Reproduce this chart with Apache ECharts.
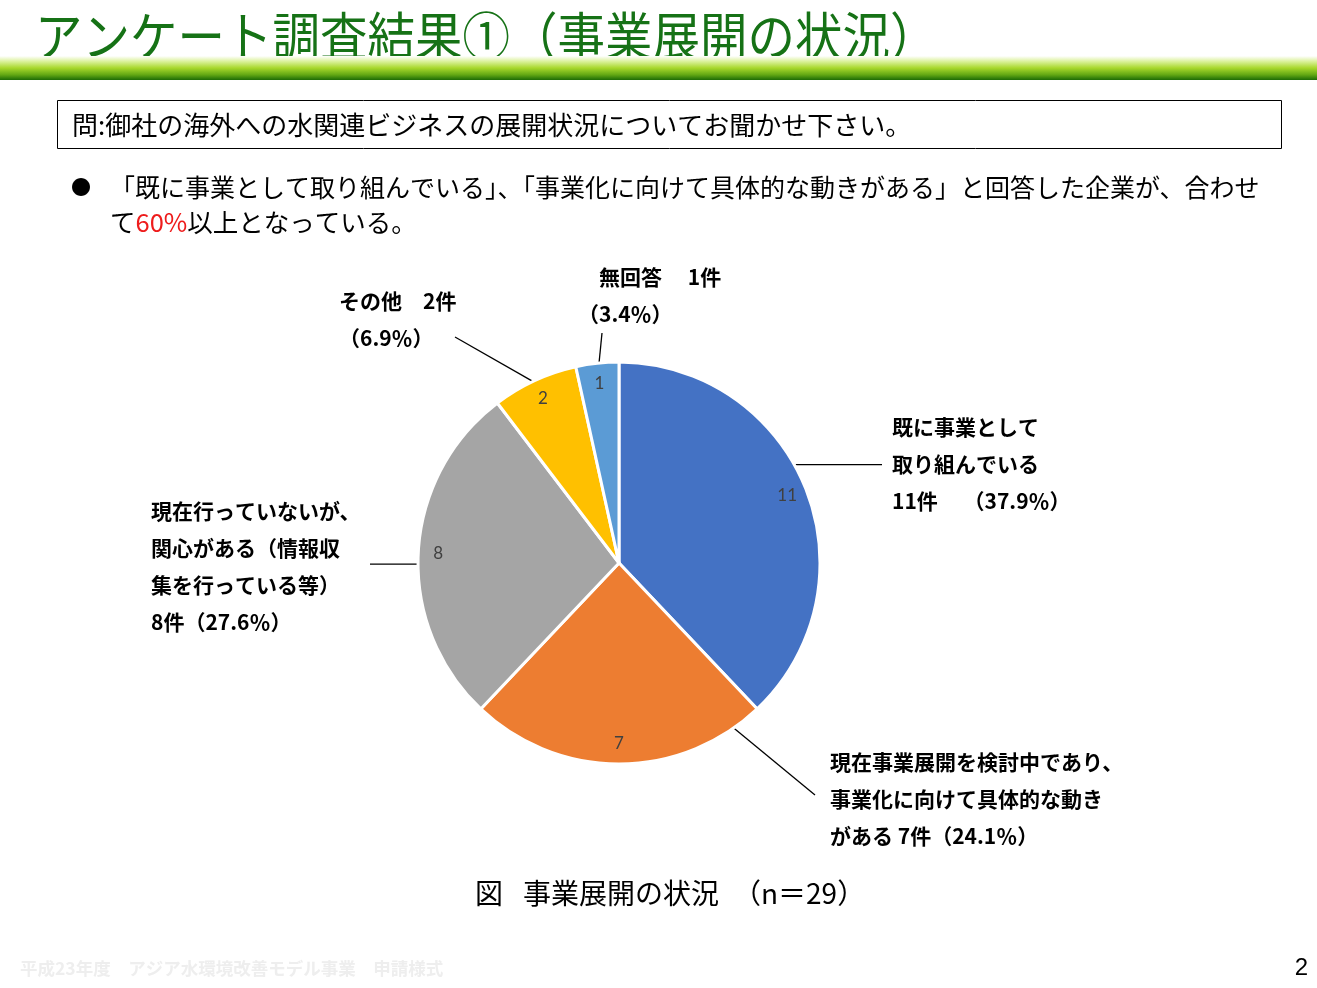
<!DOCTYPE html>
<html><head><meta charset="utf-8">
<script src="https://cdn.jsdelivr.net/npm/echarts@6/dist/echarts.min.js"></script>
<style>html,body{margin:0;padding:0;background:#fff}#c{width:1317px;height:988px}</style>
</head><body><div id="c"></div>
<script>
// ---- data ----
const categories = [
  '既に事業として取り組んでいる',
  '現在事業展開を検討中であり、事業化に向けて具体的な動きがある',
  '現在行っていないが、関心がある（情報収集を行っている等）',
  'その他',
  '無回答'
];
const counts = [11, 7, 8, 2, 1];
const percents = ['37.9', '24.1', '27.6', '6.9', '3.4'];
const labelTemplates = [
  '既に事業として\n取り組んでいる\n{n}件　 （{p}％）',
  '現在事業展開を検討中であり、\n事業化に向けて具体的な動き\nがある {n}件（{p}％）',
  '現在行っていないが、\n関心がある（情報収\n集を行っている等）\n{n}件（{p}％）',
  'その他　{n}件\n（{p}％）',
  '　無回答　 {n}件\n（{p}％）'
];
const titleText = 'アンケート調査結果①（事業展開の状況）';
const questionText = '問:御社の海外への水関連ビジネスの展開状況についてお聞かせ下さい。';
const bulletLine1 = '「既に事業として取り組んでいる」、「事業化に向けて具体的な動きがある」と回答した企業が、合わせ';
const bulletLine2 = ['て', '60%', '以上となっている。'];
const captionHead = '図';
const captionBody = '事業展開の状況　（n＝29）';
const footerText = '平成23年度　アジア水環境改善モデル事業　申請様式';
const pageNumber = '2';

// ---- style / layout ----
const colors = ['#4472C4', '#ED7D31', '#A5A5A5', '#FFC000', '#5B9BD5'];
const JP = "'Noto Sans CJK JP', 'Noto Sans', sans-serif";
const CX = 619, CY = 563, R = 201;
const labelPlace = [
  { x: 892, y: 409, angle: 60.7, end: [882, null] },
  { x: 830, y: 744, angle: 145.2, end: [815, 795] },
  { x: 151, y: 493, angle: 269.7, end: [370, null] },
  { x: 339, y: 283, angle: 334.6, end: [455, 337] },
  { x: 578, y: 259, angle: 354.3, end: [602, 333] }
];

const pieData = categories.map((c, i) => ({ name: c, value: counts[i], itemStyle: { color: colors[i] } }));

const chart = echarts.init(document.getElementById('c'));
chart.setOption({
  animation: false,
  backgroundColor: '#fff',
  graphic: [
    { type: 'text', x: 35, y: 36, scaleY: 1.1, style: { text: titleText, fill: '#167216', fontSize: 47.5, fontFamily: JP, align: 'left', verticalAlign: 'middle' } },
    { type: 'rect', shape: { x: 0, y: 56, width: 1317, height: 24 }, style: { fill: { type: 'linear', x: 0, y: 0, x2: 0, y2: 1, colorStops: [
      { offset: 0, color: '#ffffff' }, { offset: 0.22, color: '#dcf29e' }, { offset: 0.5, color: '#a8d82c' }, { offset: 0.78, color: '#63a814' }, { offset: 1, color: '#1d6b06' } ] } } },
    { type: 'rect', shape: { x: 57.5, y: 100.5, width: 1224, height: 48 }, style: { fill: 'none', stroke: '#000', lineWidth: 1 } },
    { type: 'text', x: 72, y: 125, style: { text: questionText, fill: '#000', fontSize: 26, fontFamily: JP, align: 'left', verticalAlign: 'middle' } },
    { type: 'text', x: 81, y: 187, style: { text: '●', fill: '#000', fontSize: 20, fontFamily: JP, align: 'center', verticalAlign: 'middle' } },
    { type: 'text', x: 110, y: 187, style: { text: bulletLine1, fill: '#000', fontSize: 25, fontFamily: JP, align: 'left', verticalAlign: 'middle' } },
    { type: 'text', x: 110, y: 222, style: { text: bulletLine2[0] + '{r|' + bulletLine2[1] + '}' + bulletLine2[2], fill: '#000', fontSize: 25.5, fontFamily: JP, align: 'left', verticalAlign: 'middle',
      rich: { r: { fill: '#ee1c1c', fontSize: 25.5, fontFamily: JP } } } },
    { type: 'text', x: 475, y: 893, style: { text: captionHead, fill: '#000', fontSize: 28, fontFamily: JP, align: 'left', verticalAlign: 'middle' } },
    { type: 'text', x: 523, y: 893, style: { text: captionBody, fill: '#000', fontSize: 28, fontFamily: JP, align: 'left', verticalAlign: 'middle' } },
    { type: 'text', x: 20, y: 968, style: { text: footerText, fill: '#eeeeee', fontSize: 17.5, fontWeight: 'bold', fontFamily: JP, align: 'left', verticalAlign: 'middle' } },
    { type: 'text', x: 1308, y: 968, style: { text: pageNumber, fill: '#000', fontSize: 24, fontFamily: "'Liberation Sans', sans-serif", align: 'right', verticalAlign: 'middle' } }
  ],
  series: [
    {
      type: 'pie',
      center: [CX, CY],
      radius: [0, R],
      startAngle: 90,
      clockwise: true,
      avoidLabelOverlap: false,
      silent: true,
      data: pieData,
      itemStyle: { borderColor: '#fff', borderWidth: 3 },
      label: {
        show: true,
        position: 'outside',
        color: '#000',
        fontSize: 21,
        fontWeight: 'bold',
        fontFamily: JP,
        lineHeight: 37,
        formatter: p => labelTemplates[p.dataIndex].replace('{n}', counts[p.dataIndex]).replace('{p}', percents[p.dataIndex])
      },
      labelLine: { show: true, length: 10, length2: 10, lineStyle: { color: '#000', width: 1.3 } },
      labelLayout: function (params) {
        const c = labelPlace[params.dataIndex];
        const a = c.angle * Math.PI / 180;
        const sx = CX + R * Math.sin(a), sy = CY - R * Math.cos(a);
        const ex = c.end[0], ey = c.end[1] == null ? sy : c.end[1];
        return { x: c.x, y: c.y, align: 'left', verticalAlign: 'top', labelLinePoints: [[sx, sy], [ex, ey], [ex, ey]] };
      }
    },
    {
      type: 'pie',
      center: [CX, CY],
      radius: [155, R],
      startAngle: 90,
      clockwise: true,
      silent: true,
      data: categories.map((c, i) => ({ name: c, value: counts[i] })),
      itemStyle: { color: 'rgba(0,0,0,0)', borderWidth: 0 },
      label: { show: true, position: 'inside', formatter: '{c}', color: '#404040', fontSize: 17, fontFamily: "'Lato', 'Liberation Sans', sans-serif" },
      labelLine: { show: false }
    }
  ]
});
</script></body></html>
